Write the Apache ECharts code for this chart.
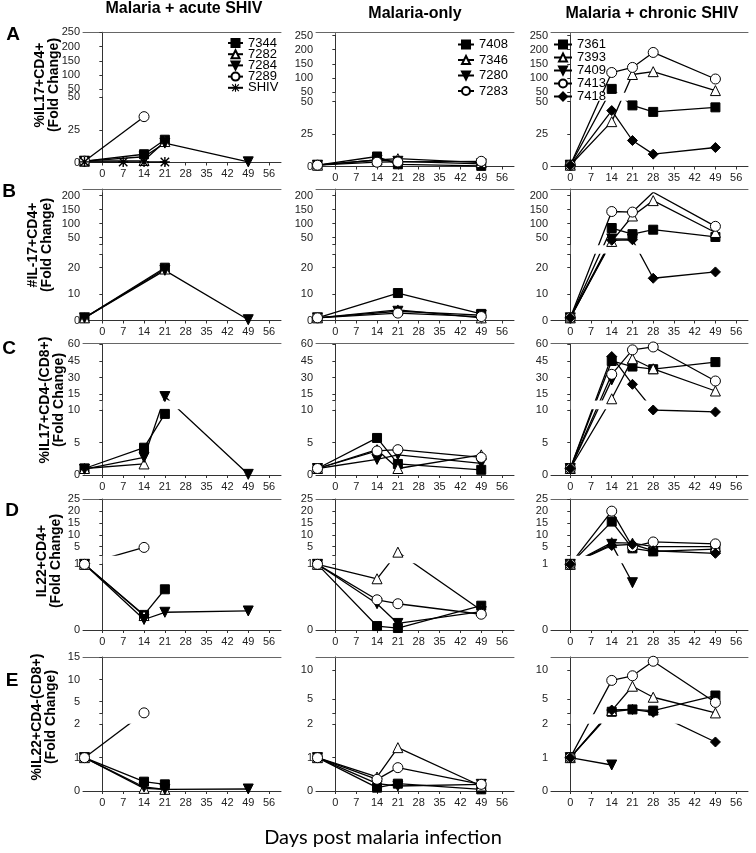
<!DOCTYPE html>
<html><head><meta charset="utf-8">
<script src="https://cdn.jsdelivr.net/npm/echarts@6/dist/echarts.min.js"></script>
<style>html,body{margin:0;padding:0;background:#fff}#c{width:756px;height:853px}</style>
</head><body><div id="c"></div><script>
// ---------- DATA ----------
const NAMES_ACUTE = ['7344','7282','7284','7289','SHIV'];
const NAMES_ONLY = ['7408','7346','7280','7283'];
const NAMES_CHRONIC = ['7361','7393','7409','7413','7418'];
const DAYS_ACUTE = [-6, 7, 14, 21, 49];
const DAYS_ONLY = [-6, 14, 21, 49];
const DAYS_CHRONIC = [0, 14, 21, 28, 49];
const X_TICKS = [0, 7, 14, 21, 28, 35, 42, 49, 56];

// Row A  %IL17+CD4+
const A_ACUTE = [[1,null,6.3,17.4,null],[1,null,1.5,16,null],[1,null,4.4,14.8,0.5],[1,null,35,null,null],[0.5,0.4,0.4,0.4,null]];
const A_ONLY = [[1,7.7,1.7,0.5],[1,5,6,3],[1,5,4,2],[1,3.3,3.5,4]];
const A_CHRONIC = [[1,61,47,42,45.5],[1,34.5,112,122,55],[1,null,null,null,null],[1,119,137,190,96],[1,43,20,9.5,14.6]];
// Row B  #IL-17+CD4+
const B_ACUTE = [[1,null,null,20,null],[1,null,null,19.5,null],[1,null,null,19,0.3],[null,null,null,null,null],[null,null,null,null,null]];
const B_ONLY = [[1,null,10.4,2.5],[1,null,4,1],[1,null,3.5,2],[1,null,2.8,1.5]];
const B_CHRONIC = [[1,84,62,78,52],[1,36,127,182,68],[1,45,44,null,null],[1,143,141,212,90],[1,40,42,16,18.4]];
// Row C  %IL17+CD4-(CD8+)
const C_ACUTE = [[1,null,4.2,9.4,null],[1,null,1.7,null,null],[0.9,null,2.7,13,0.1],[null,null,null,null,null],[null,null,null,null,null]];
const C_ONLY = [[1,5.7,1.7,0.8],[1,3.9,1,3.1],[1,2.4,3.1,1.8],[1,3.7,3.9,2.7]];
const C_CHRONIC = [[1,45,40,37.6,44],[1,11,47,38,18],[1,28,null,null,null],[1,33,55,57.6,27],[1,49,24,10,9.7]];
// Row D  IL22+CD4+
const D_ACUTE = [[1,null,0.23,0.62,null],[1,null,0.22,null,null],[1,null,0.16,0.27,0.29],[1,null,4.7,null,null],[null,null,null,null,null]];
const D_ONLY = [[1,0.06,0.03,0.37],[1,0.78,2.7,0.3],[1,0.4,0.1,0.28],[1,0.46,0.4,0.24]];
const D_CHRONIC = [[1,15.6,4.3,3,4],[1,6.7,6.5,5,5],[1,6,0.72,null,null],[1,20,5,7,6.2],[1,5.5,6,3.3,2.2]];
// Row E  %IL22+CD4-(CD8+)
const E_ACUTE = [[1,null,0.28,0.2,null],[1,null,0.08,0.05,null],[1,null,0.12,0.05,0.06],[1,null,2.5,null,null],[null,null,null,null,null]];
const E_ONLY = [[1,0.1,0.22,0.05],[1,0.42,1.3,0.15],[1,0.22,0.15,0.2],[1,0.35,0.7,0.2]];
const E_CHRONIC = [[1,2.8,3.2,3,5.6],[1,3,7.2,5.3,2.6],[1,0.78,null,null,null],[1,8.2,9,11.5,4.4],[1,3.1,3.2,2.7,1.47]];

// y-axis tick labels (upper segment / lower segment)
const TICKS_A_UP = [50,100,150,200,250], TICKS_A_LO = [0,25,50];
const TICKS_B_UP = [50,100,150,200], TICKS_B_LO = [0,10,20];
const TICKS_C_UP = [15,30,45,60], TICKS_C_LO = [0,5,10];
const TICKS_D_UP = [5,10,15,20,25], TICKS_D_LO = [0,1];
const TICKS_E1_UP = [5,10,15], TICKS_E23_UP = [5,10], TICKS_E_LO = [0,1,2];

const ROW_TITLES = ['%IL17+CD4+','#IL-17+CD4+','%IL17+CD4-(CD8+)','IL22+CD4+','%IL22+CD4-(CD8+)'];
const ROW_LETTERS = ['A','B','C','D','E'];
const COL_TITLES = ['Malaria + acute SHIV','Malaria-only','Malaria + chronic SHIV'];

// ---------- LAYOUT / STYLE ----------
const X_MIN = -6.5, X_MAX = 60;
const PANEL_X = [[83,281],[316,514],[551,748]];
function layoutFor(r, c) {
  // segment: [valueMin, valueMax, pxAtMin, pxAtMax]
  switch (r) {
    case 0: return c === 0 ? {top:32.3, up:[50,250,89.3,32.3], lo:[0,50,162.5,97]}
                           : {top:32.5, up:[50,250,92,35.5], lo:[0,50,166.5,101.5]};
    case 1: return {top:189, up:[25,210,244.5,192.8], lo:[0,25,320.5,254.5]};
    case 2: return {top:343.5, up:[10,60,399.9,344.3], lo:[0,10,475,410]};
    case 3: return {top:499, up:[1.5,25,555,499.3], lo:[0,1.005,630,564]};
    default: return c === 0 ? {top:657, up:[2.4,15,713.3,657.3], lo:[0,2,791,724.3]}
                            : {top:657, up:[2.5,12.2,713.5,657.2], lo:[0,2,791,724.3]};
  }
}
function ticksFor(r, c) {
  return [[TICKS_A_UP,TICKS_A_LO],[TICKS_B_UP,TICKS_B_LO],[TICKS_C_UP,TICKS_C_LO],[TICKS_D_UP,TICKS_D_LO],
          [c === 0 ? TICKS_E1_UP : TICKS_E23_UP, TICKS_E_LO]][r];
}
function segPx(v, s) { return s[2] + (v - s[0]) / (s[1] - s[0]) * (s[3] - s[2]); }
function px(v, lay) { return v <= lay.lo[1] + 1e-9 ? segPx(v, lay.lo) : segPx(v, lay.up); }

const INV_TRI = 'path://M0,0L10,0L5,9Z';
const STAR = 'path://M4.3,0H5.7V10H4.3Z M0,4.3H10V5.7H0Z M1.3,0.3L9.7,8.7L8.7,9.7L0.3,1.3Z M8.7,0.3L9.7,1.3L1.3,9.7L0.3,8.7Z';
const MARK = {
  rect: {symbol:'rect', fill:'#000', size:9, bw:1},
  tri: {symbol:'triangle', fill:'#fff', size:10, bw:1},
  inv: {symbol:INV_TRI, fill:'#000', size:10, bw:1},
  circ: {symbol:'circle', fill:'#fff', size:10, bw:1},
  star: {symbol:STAR, fill:'#000', size:10, bw:0},
  dia: {symbol:'diamond', fill:'#000', size:10, bw:1}
};
const COLS = [
  {names:NAMES_ACUTE, days:DAYS_ACUTE, rows:[A_ACUTE,B_ACUTE,C_ACUTE,D_ACUTE,E_ACUTE], marks:[MARK.rect,MARK.tri,MARK.inv,MARK.circ,MARK.star]},
  {names:NAMES_ONLY, days:DAYS_ONLY, rows:[A_ONLY,B_ONLY,C_ONLY,D_ONLY,E_ONLY], marks:[MARK.rect,MARK.tri,MARK.inv,MARK.circ]},
  {names:NAMES_CHRONIC, days:DAYS_CHRONIC, rows:[A_CHRONIC,B_CHRONIC,C_CHRONIC,D_CHRONIC,E_CHRONIC], marks:[MARK.rect,MARK.tri,MARK.inv,MARK.circ,MARK.dia]}
];

const FONT = '"Liberation Sans", Arial, sans-serif';
const AXIS_COLOR = '#333', FRAME_COLOR = '#666', LABEL_COLOR = '#222';

const grid = [], xAxis = [], yAxis = [], series = [];

function yAxisFor(gi, seg, ticks, endTick) {
  const labelVals = ticks.map(t => -segPx(t, seg));
  const map = {};
  ticks.forEach((t, i) => { map[labelVals[i].toFixed(2)] = String(t); });
  const tickVals = labelVals.slice();
  if (endTick !== null && !ticks.some(t => Math.abs(t - endTick) < 0.02)) tickVals.push(-segPx(endTick, seg));
  return {
    type:'value', gridIndex:gi, position:'left', min:-seg[2], max:-seg[3],
    axisLine:{show:true, lineStyle:{color:AXIS_COLOR, width:1}},
    axisTick:{show:true, length:3, inside:false, customValues:tickVals, lineStyle:{color:AXIS_COLOR}},
    axisLabel:{show:true, customValues:labelVals, margin:3, fontSize:11, fontFamily:FONT, color:LABEL_COLOR,
      showMinLabel:true, showMaxLabel:true, formatter: v => map[Number(v).toFixed(2)] || ''},
    splitLine:{show:false}
  };
}

let p = 0;
for (let r = 0; r < 5; r++) {
  for (let c = 0; c < 3; c++) {
    const lay = layoutFor(r, c);
    const [L, R] = PANEL_X[c];
    const W = R - L;
    const zeroPx = lay.lo[2];
    const [tUp, tLo] = ticksFor(r, c);
    const gF = 3 * p, gU = 3 * p + 1, gL = 3 * p + 2;
    grid.push({left:L, top:lay.top, width:W, height:zeroPx - lay.top, outerBoundsMode:'none', containLabel:false});
    grid.push({left:L, top:lay.up[3], width:W, height:lay.up[2] - lay.up[3], outerBoundsMode:'none', containLabel:false});
    grid.push({left:L, top:lay.lo[3], width:W, height:lay.lo[2] - lay.lo[3], outerBoundsMode:'none', containLabel:false});
    // frame axes
    xAxis.push({type:'value', gridIndex:gF, position:'bottom', min:X_MIN, max:X_MAX,
      axisLine:{show:true, lineStyle:{color:AXIS_COLOR, width:1}},
      axisTick:{show:true, length:3, customValues:X_TICKS, lineStyle:{color:AXIS_COLOR}},
      axisLabel:{show:true, customValues:X_TICKS, margin:6, fontSize:11, fontFamily:FONT, color:LABEL_COLOR},
      splitLine:{show:false}});
    xAxis.push({type:'value', gridIndex:gF, position:'top', min:X_MIN, max:X_MAX,
      axisLine:{show:true, lineStyle:{color:FRAME_COLOR, width:1}}, axisTick:{show:false}, axisLabel:{show:false}, splitLine:{show:false}});
    xAxis.push({type:'value', gridIndex:gU, min:X_MIN, max:X_MAX, show:false});
    xAxis.push({type:'value', gridIndex:gL, min:X_MIN, max:X_MAX, show:false});
    yAxis.push({type:'value', gridIndex:gF, position:'right', min:0, max:1,
      axisLine:{show:true, lineStyle:{color:FRAME_COLOR, width:1}}, axisTick:{show:false}, axisLabel:{show:false}, splitLine:{show:false}});
    yAxis.push(yAxisFor(gU, lay.up, tUp, lay.up[0]));
    yAxis.push(yAxisFor(gL, lay.lo, tLo, lay.lo[1]));

    const col = COLS[c];
    const data = col.rows[r];
    col.names.forEach((nm, si) => {
      const vals = data[si];
      const pts = [];
      col.days.forEach((d, di) => { if (vals && vals[di] != null) pts.push([d, -px(vals[di], lay)]); });
      if (!pts.length) return;
      const m = col.marks[si];
      [[4 * p + 2, 3 * p + 1], [4 * p + 3, 3 * p + 2]].forEach(([xi, yi]) => {
        series.push({
          type:'line', name:nm, xAxisIndex:xi, yAxisIndex:yi, data:pts,
          symbol:m.symbol, symbolSize:m.size, showSymbol:true, showAllSymbol:true,
          itemStyle:{color:m.fill, borderColor:'#000', borderWidth:m.bw},
          lineStyle:{color:'#000', width:1.3}, clip:true, silent:true, animation:false, z:3
        });
      });
    });
    p++;
  }
}

const legendBase = {orient:'vertical', itemHeight:10, padding:0, selectedMode:false,
  textStyle:{fontSize:13, fontFamily:FONT, color:'#000', lineHeight:10}};
const legend = [
  Object.assign({}, legendBase, {data:NAMES_ACUTE, left:227, top:36.5, itemWidth:15, itemGap:-1.8}),
  Object.assign({}, legendBase, {data:NAMES_ONLY, left:457, top:38, itemWidth:16, itemGap:2.5}),
  Object.assign({}, legendBase, {data:NAMES_CHRONIC, left:553, top:38, itemWidth:18, itemGap:0})
];

const graphic = [];
const colTitleX = [184, 415, 652], colTitleY = [9, 13.5, 13.5];
COL_TITLES.forEach((t, i) => graphic.push({type:'text', x:colTitleX[i], y:colTitleY[i], silent:true,
  style:{text:t, font:'bold 16px ' + FONT, fill:'#000', align:'center', verticalAlign:'middle'}}));
const letterPos = [[13,35],[9,192],[9,349],[12,511],[12,681]];
ROW_LETTERS.forEach((t, i) => graphic.push({type:'text', x:letterPos[i][0], y:letterPos[i][1], silent:true,
  style:{text:t, font:'bold 19px ' + FONT, fill:'#000', align:'center', verticalAlign:'middle'}}));
const yTitlePos = [[47,85],[40,245],[52,400],[49,561],[44,717]];
ROW_TITLES.forEach((t, i) => graphic.push({type:'text', x:yTitlePos[i][0], y:yTitlePos[i][1], rotation:Math.PI / 2, silent:true,
  style:{text:t + '\n(Fold Change)', font:'bold 14px ' + FONT, lineHeight:14, fill:'#000', align:'center', verticalAlign:'middle'}}));
graphic.push({type:'text', x:383, y:838, silent:true,
  style:{text:'Days post malaria infection', font:'20px Lato, "Open Sans", sans-serif', fill:'#000', align:'center', verticalAlign:'middle'}});

const chart = echarts.init(document.getElementById('c'), null, {renderer:'canvas'});
chart.setOption({animation:false, backgroundColor:'#fff', grid, xAxis, yAxis, series, legend, graphic});
</script></body></html>
